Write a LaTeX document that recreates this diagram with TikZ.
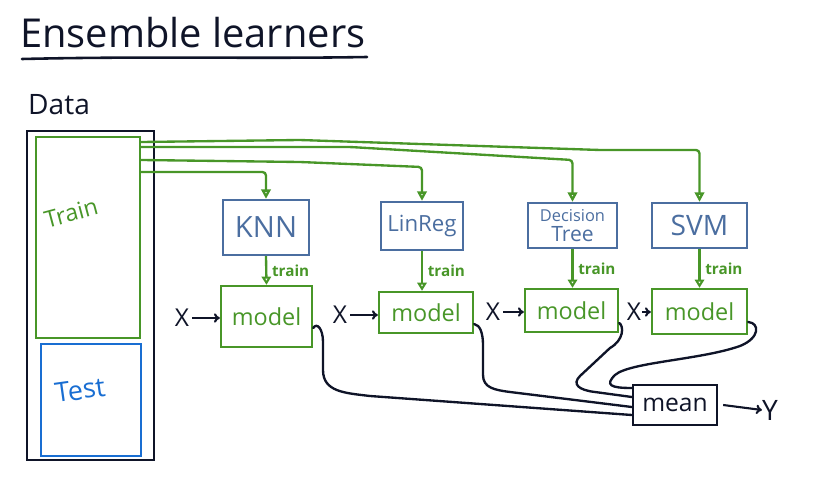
\documentclass[tikz,border=0pt]{standalone}
\usepackage{fontspec}
\setmainfont{Open Sans}
\usetikzlibrary{arrows.meta,calc}
\definecolor{grn}{RGB}{72,150,40}
\definecolor{boxblue}{RGB}{75,110,160}
\definecolor{testblue}{RGB}{25,110,210}
\definecolor{ink}{RGB}{15,20,40}
\def\u{0.03cm}
\tikzset{
  every node/.style={inner sep=0pt},
  bx/.style n args={2}{draw, line width=2pt, minimum width=#1*\u, minimum height=#2*\u},
  algo/.style={text=boxblue, draw=boxblue},
  mdl/.style={text=grn, draw=grn, font=\fontsize{20}{22}\selectfont},
  feed/.style={grn, line width=2pt, rounded corners=3pt, -{Triangle[open, length=8pt, width=8pt]}},
  trn/.style={grn, line width=2pt, -{Triangle[open, length=7pt, width=8pt]}},
  trnlab/.style={text=grn, font=\fontsize{13}{14}\selectfont\bfseries, right=4pt},
  inarr/.style={ink, line width=1.8pt, -{To[length=5pt, width=8pt]}},
  outc/.style={ink, line width=2pt, line cap=round},
  xlab/.style={text=ink, font=\fontsize{21}{22}\selectfont}
}
\begin{document}
\begin{tikzpicture}[x=0.03cm, y=-0.03cm]
\useasboundingbox (0,0) rectangle (819,483);
% title
\node[anchor=base west, text=ink, font=\fontsize{34}{36}\selectfont] (title) at (20,48) {Ensemble learners};
\draw[ink, line width=2.2pt, line cap=round] (22,59) .. controls (150,56) and (250,59) .. (367,57);
\node[anchor=base west, text=ink, font=\fontsize{24}{26}\selectfont] (data) at (28,115) {Data};
% data boxes
\node[bx={127}{329}, draw=ink] (outer) at (90.5,295.5) {};
\node[bx={104}{201}, draw=grn] (train) at (88,237.5) {};
\node[bx={100}{112}, draw=testblue] (test) at (91,400) {};
\node[text=grn, rotate=15, font=\fontsize{20}{22}\selectfont] (trainlab) at (71,213) {Train};
\node[text=testblue, rotate=8, font=\fontsize{23}{24}\selectfont] (testlab) at (80,390) {Test};
% algorithm boxes
\node[bx={86}{55}, algo, font=\fontsize{25}{26}\selectfont] (knn) at (266,227.5) {KNN};
\node[bx={82}{48}, algo, font=\fontsize{19}{20}\selectfont] (lin) at (422,226) {LinReg};
\node[bx={89}{45}, algo, font=\fontsize{14}{15}\selectfont, align=center] (dt) at (572.5,225.5) {Decision\\[2pt]{\fontsize{18}{18}\selectfont Tree}};
\node[bx={95}{45}, algo, font=\fontsize{24}{26}\selectfont] (svm) at (699.5,225.5) {SVM};
% model boxes
\node[bx={91}{61}, mdl] (m1) at (266.5,316.5) {model};
\node[bx={94}{41}, mdl] (m2) at (426,312.5) {model};
\node[bx={93}{43}, mdl] (m3) at (571.5,310.5) {model};
\node[bx={95}{45}, mdl] (m4) at (699.5,311.5) {model};
\node[bx={84}{40}, draw=ink, text=ink, font=\fontsize{21}{22}\selectfont] (mean) at (675,405) {mean};
% feed lines
\draw[feed] (train.east |- {(0,142)}) -- (300,140) -- (600,150) -| (svm.north);
\draw[feed] (train.east |- {(0,147)}) -- (350,147) -- (dt.north |- {(0,160)}) -- (dt.north);
\draw[feed] (train.east |- {(0,160)}) -- (300,162) -- (lin.north |- {(0,167)}) -- (lin.north);
\draw[feed] (train.east |- {(0,172)}) -- (knn.north |- {(0,172)}) -- (knn.north);
% train arrows
\draw[trn] (knn.south) -- node[trnlab] {train} (m1.north);
\draw[trn] (lin.south) -- node[trnlab] {train} (lin.south |- m2.north);
\draw[trn] (dt.south) -- node[trnlab] {train} (dt.south |- m3.north);
\draw[trn] (svm.south) -- node[trnlab] {train} (svm.south |- m4.north);
% inputs
\node[xlab] (x1) at (182,318) {X};
\node[xlab] (x2) at (340,315) {X};
\node[xlab] (x3) at (493,312) {X};
\node[xlab] (x4) at (634,312) {X};
\draw[inarr] (x1.east) ++(3,0) coordinate (x1e) (x1e) -- (m1.west |- x1e);
\draw[inarr] (x2.east) ++(3,0) coordinate (x2e) (x2e) -- (m2.west |- x2e);
\draw[inarr] (x3.east) ++(3,0) coordinate (x3e) (x3e) -- (m3.west |- x3e);
\draw[inarr] (x4.east) ++(1,0) coordinate (x4e) (x4e) -- (m4.west |- x4e);
% outputs to mean
\draw[outc] (m1.east |- {(0,328)}) .. controls (317,322) and (323,329) .. (323,342) -- (323,370)
  .. controls (323,392) and (345,393) .. (370,396) -- (mean.west |- {(0,415)});
\draw[outc] (m2.east |- {(0,324)}) .. controls (480,325) and (483,333) .. (483,345) -- (483,375)
  .. controls (483,388) and (495,390) .. (510,392) -- (mean.west |- {(0,407)});
\draw[outc] (m3.east |- {(0,323)}) .. controls (624,326) and (624,340) .. (610,348) -- (580,376)
  .. controls (572,384) and (578,390) .. (595,392) -- (mean.west |- {(0,397)});
\draw[outc] (m4.east |- {(0,322)}) .. controls (760,323) and (760,338) .. (740,346)
  .. controls (700,360) and (630,362) .. (615,375) .. controls (605,385) and (610,388) .. (mean.west |- {(0,388)});
% output
\node[text=ink, font=\fontsize{24}{26}\selectfont] (y) at (770,410) {Y};
\draw[inarr] (mean.east) ++(5,0) coordinate (me) (me) -- (y.west);
\end{tikzpicture}
\end{document}
